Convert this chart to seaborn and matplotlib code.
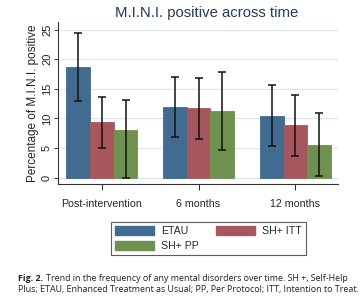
import matplotlib
matplotlib.use("Agg")
import matplotlib.pyplot as plt
import seaborn as sns
import pandas as pd
import numpy as np
from matplotlib.patches import Patch

# ---- data ----
timepoints = ["Post-intervention", "6 months", "12 months"]
groups = ["ETAU", "SH+ ITT", "SH+ PP"]
etau = [18.7, 12.0, 10.5]
etau_lo = [13.0, 6.9, 5.3]
etau_hi = [24.5, 17.0, 15.7]
itt = [9.4, 11.7, 8.9]
itt_lo = [5.0, 6.5, 3.6]
itt_hi = [13.7, 16.8, 14.0]
pp = [8.1, 11.3, 5.6]
pp_lo = [0.0, 4.7, 0.3]
pp_hi = [13.2, 17.8, 10.9]
yticks = [0, 5, 10, 15, 20, 25]

colors = ["#416b91", "#a8565e", "#6f914f"]

df = pd.DataFrame({
    "time": timepoints * 3,
    "group": [g for g in groups for _ in timepoints],
    "value": etau + itt + pp,
    "lo": etau_lo + itt_lo + pp_lo,
    "hi": etau_hi + itt_hi + pp_hi,
})

sns.set_theme(style="white")
plt.rcParams["font.family"] = ["Liberation Sans", "DejaVu Sans"]

fig = plt.figure(figsize=(3.62, 3.01), dpi=100)
ax = fig.add_axes([0.161, 0.390, 0.773, 0.537])

sns.barplot(data=df, x="time", y="value", hue="group", order=timepoints,
            hue_order=groups, palette=colors, errorbar=None, width=0.74,
            saturation=1, edgecolor=None, linewidth=0.6, ax=ax, legend=False)

# error bars placed at the bar centres produced by seaborn
for container, g, col in zip(ax.containers, groups, colors):
    sub = df[df["group"] == g].set_index("time").loc[timepoints]
    for bar, (_, row) in zip(container.patches, sub.iterrows()):
        bar.set_edgecolor(col)
        cx = bar.get_x() + bar.get_width() / 2
        ax.errorbar(cx, row["value"],
                    yerr=[[row["value"] - row["lo"]], [row["hi"] - row["value"]]],
                    fmt="none", ecolor="#111111", elinewidth=1.1, capsize=2.6,
                    capthick=1.1, zorder=5)

ax.set_xlim(-0.447, 2.44)
ax.set_ylim(-1.0, 26.3)
ax.set_yticks(yticks)
ax.set_yticklabels([str(t) for t in yticks], rotation=90, va="center", fontsize=8)
ax.yaxis.grid(True, color="#dfe7ec", linewidth=0.9)
ax.set_axisbelow(True)
ax.tick_params(axis="y", length=3, width=0.7, pad=1.5, color="#333333", left=True)
ax.tick_params(axis="x", length=4, width=0.7, pad=7, color="#333333", bottom=True,
               labelsize=7.7)
for s in ["top", "right"]:
    ax.spines[s].set_visible(False)
for s in ["left", "bottom"]:
    ax.spines[s].set_color("#333333")
    ax.spines[s].set_linewidth(0.8)
ax.set_xlabel("")
ax.set_ylabel("Percentage of M.I.N.I. positive", fontsize=8.5, labelpad=2)
fig.text(0.572, 0.958, "M.I.N.I. positive across time", fontsize=10.7,
         color="#23395a", ha="center", va="center")

handles = [Patch(facecolor=colors[0], edgecolor=colors[0], label=groups[0]),
           Patch(facecolor=colors[2], edgecolor=colors[2], label=groups[2]),
           Patch(facecolor=colors[1], edgecolor=colors[1], label=groups[1])]
leg = fig.legend(handles=handles, ncol=2, loc="center", bbox_to_anchor=(0.576, 0.208),
                 fontsize=7.6, frameon=True, fancybox=False, edgecolor="#333333",
                 handlelength=3.7, handleheight=1.0, columnspacing=1.6,
                 labelspacing=0.4, borderpad=0.4, handletextpad=0.7)
leg.get_frame().set_linewidth(0.8)

# caption
cap_font = ["Open Sans", "DejaVu Sans"]
fig.canvas.draw()
r = fig.canvas.get_renderer()
t1 = fig.text(0.05, 0.068, "Fig. 2.", fontsize=6.4, fontweight="bold",
              family=cap_font, color="#222222")
bb = t1.get_window_extent(renderer=r)
x_after = (bb.x1 + 3) / fig.bbox.width
fig.text(x_after, 0.068, "Trend in the frequency of any mental disorders over time. SH +, Self-Help",
         fontsize=6.4, family=cap_font, color="#222222")
fig.text(0.05, 0.030, "Plus; ETAU, Enhanced Treatment as Usual; PP, Per Protocol; ITT, Intention to Treat.",
         fontsize=6.4, family=cap_font, color="#222222")

fig.savefig("out.png", dpi=100)
